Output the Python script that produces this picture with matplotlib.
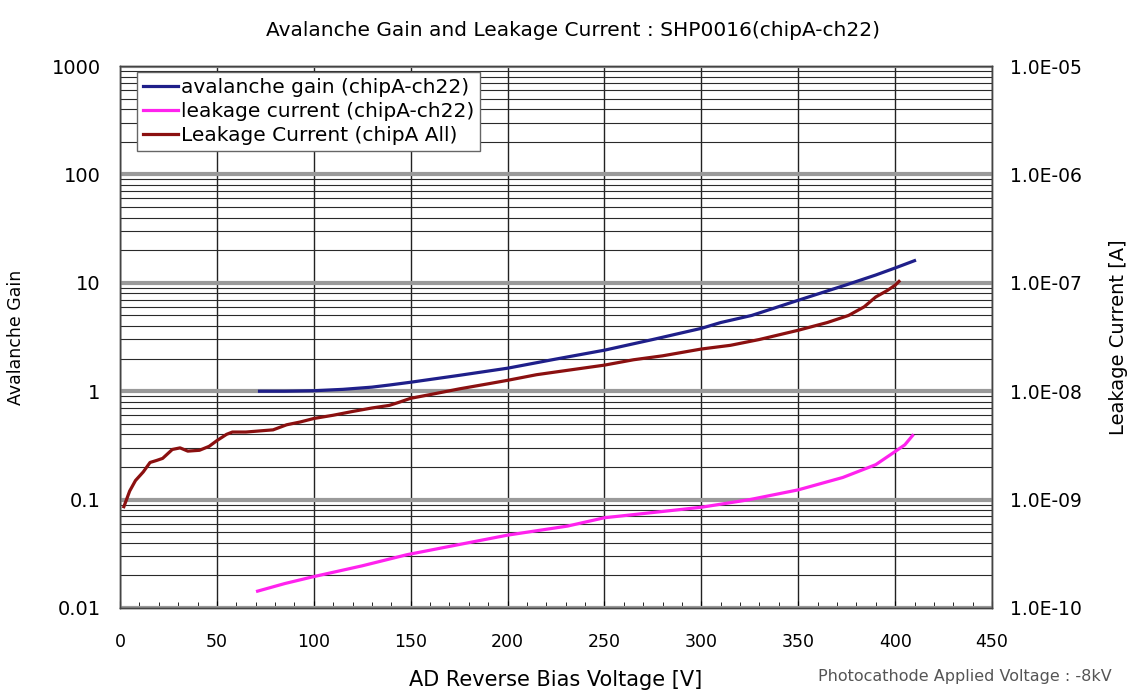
import matplotlib.pyplot as plt
from matplotlib.ticker import LogLocator, FuncFormatter, MultipleLocator, NullFormatter
from matplotlib.lines import Line2D

plt.rcParams['font.family'] = ['DejaVu Sans']

# avalanche gain (chipA-ch22), left axis
gain_v = [72, 85, 100, 115, 130, 139, 150, 175, 200, 225, 250, 275, 300, 310, 326, 350, 375, 390, 400, 410]
gain = [1.0, 1.0, 1.01, 1.04, 1.09, 1.14, 1.21, 1.40, 1.63, 1.98, 2.39, 3.0, 3.8, 4.3, 5.0, 6.9, 9.6, 11.8, 13.7, 16.0]

# leakage current (chipA-ch22) [A], right axis
leak_v = [71, 85, 99, 125, 148, 175, 200, 231, 250, 275, 300, 325, 350, 373, 390, 399, 405, 409]
leak = [1.43e-10, 1.68e-10, 1.93e-10, 2.45e-10, 3.1e-10, 3.85e-10, 4.7e-10, 5.7e-10, 6.8e-10, 7.6e-10,
        8.5e-10, 1.0e-9, 1.23e-9, 1.6e-9, 2.1e-9, 2.7e-9, 3.2e-9, 3.9e-9]

# Leakage Current (chipA All) [A], right axis
all_v = [2, 5, 8, 12, 15.5, 19, 22, 27, 31, 35, 41, 46, 50, 55, 58, 65, 72, 79, 86, 93, 100, 110, 120,
         130, 139, 144, 150, 160, 175, 190, 200, 215, 230, 250, 265, 280, 300, 315, 330, 350, 365, 376,
         384, 390, 396, 400, 402]
all_i = [0.086, 0.12, 0.15, 0.18, 0.22, 0.23, 0.24, 0.29, 0.30, 0.28, 0.285, 0.31, 0.35, 0.40, 0.42, 0.42,
         0.43, 0.44, 0.49, 0.52, 0.56, 0.60, 0.65, 0.70, 0.74, 0.79, 0.86, 0.93, 1.05, 1.17, 1.26, 1.42,
         1.55, 1.74, 1.95, 2.12, 2.45, 2.65, 3.0, 3.65, 4.3, 5.0, 6.0, 7.4, 8.5, 9.5, 10.3]
all_i = [v * 1e-8 for v in all_i]

c_gain = '#1f1f8a'
c_leak = '#ff22ee'
c_all = '#8b1010'

fig = plt.figure(figsize=(11.45, 6.97), dpi=100)
ax = fig.add_axes([0.1048, 0.1277, 0.7616, 0.7776])
ax2 = ax.twinx()

ax.set_yscale('log')
ax.set_ylim(0.01, 1000)
ax.set_xlim(0, 450)
ax2.set_yscale('log')
ax2.set_ylim(1e-10, 1e-5)

# grid: gray bands at decades, thin black at minor values
ax.yaxis.set_minor_locator(LogLocator(base=10, subs=range(2, 10)))
ax.yaxis.set_minor_formatter(NullFormatter())
ax.grid(which='minor', axis='y', color='#2a2a2a', lw=0.8)
ax.grid(which='major', axis='y', color='#9a9a9a', lw=3)
ax.xaxis.set_major_locator(MultipleLocator(50))
ax.xaxis.set_minor_locator(MultipleLocator(10))
ax.grid(which='major', axis='x', color='#222222', lw=1)
ax.set_axisbelow(True)

ax.plot(gain_v, gain, color=c_gain, lw=2.3, zorder=3)
ax2.plot(leak_v, leak, color=c_leak, lw=2.3)
ax2.plot(all_v, all_i, color=c_all, lw=2.3)

ax.yaxis.set_major_formatter(FuncFormatter(lambda v, p: f"{v:g}"))
ax2.yaxis.set_major_formatter(FuncFormatter(lambda v, p: f"{v:.1E}"))
ax2.yaxis.set_minor_formatter(NullFormatter())

ax.tick_params(axis='y', which='both', direction='in', labelsize=14, pad=14, length=0)
ax.tick_params(axis='x', which='major', direction='in', labelsize=12.5, pad=18, length=5)
ax.tick_params(axis='x', which='minor', direction='in', length=4)
ax2.tick_params(axis='y', which='both', direction='in', labelsize=13.5, pad=13, length=0)

for a in (ax, ax2):
    for s in a.spines.values():
        s.set_color('#444444')
        s.set_linewidth(1)

ax.set_xlabel('AD Reverse Bias Voltage [V]', fontsize=15, labelpad=14)
ax.set_ylabel('Avalanche Gain', fontsize=12.5)
ax.yaxis.set_label_coords(-0.109, 0.5)
ax2.set_ylabel('Leakage Current [A]', fontsize=14)
ax2.yaxis.set_label_coords(1.134, 0.5)
fig.suptitle('Avalanche Gain and Leakage Current : SHP0016(chipA-ch22)', x=0.5, y=0.97, fontsize=14.5)

handles = [Line2D([], [], color=c_gain, lw=2.3),
           Line2D([], [], color=c_leak, lw=2.3),
           Line2D([], [], color=c_all, lw=2.3)]
labels = ['avalanche gain (chipA-ch22)', 'leakage current (chipA-ch22)', 'Leakage Current (chipA All)']
leg = ax2.legend(handles, labels, loc='upper left', bbox_to_anchor=(0.02, 0.989), fontsize=14.5,
                 frameon=True, fancybox=False, framealpha=1, edgecolor='#666666',
                 handlelength=1.7, handletextpad=0.15, labelspacing=0.25, borderpad=0.3, borderaxespad=0)
leg.get_frame().set_linewidth(1)

fig.text(0.714, 0.018, 'Photocathode Applied Voltage : -8kV', fontsize=11.5, color='#555555', va='bottom')

fig.savefig('out.png', dpi=100)
